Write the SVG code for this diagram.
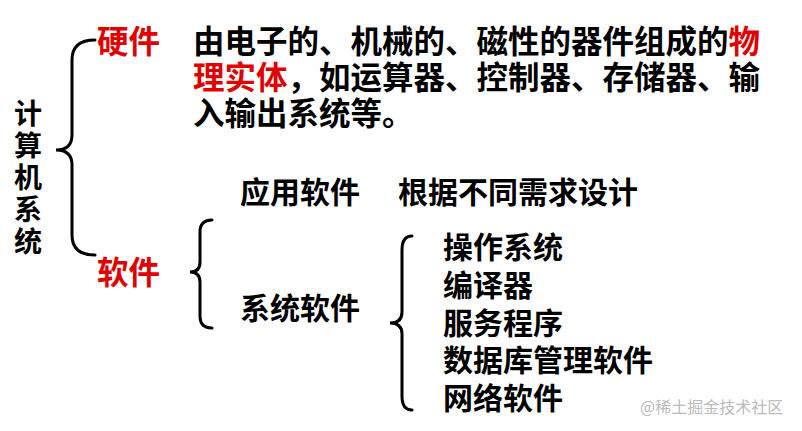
<svg xmlns="http://www.w3.org/2000/svg" width="802" height="431" viewBox="0 0 802 431">
<style>
text{font-family:"Noto Sans CJK SC","Noto Sans",sans-serif;font-weight:bold;fill:#000}
.r{fill:#e00000}
.b{fill:none;stroke:#000;stroke-width:3;stroke-linecap:round}
.t{font-size:31.5px}
.s{font-size:30px}
.v{font-size:28px}
</style>
<rect width="802" height="431" fill="#fff"/>
<g id="root">
<text class="v" x="28" y="124" text-anchor="middle">计</text>
<text class="v" x="28" y="156" text-anchor="middle">算</text>
<text class="v" x="28" y="188" text-anchor="middle">机</text>
<text class="v" x="28" y="220" text-anchor="middle">系</text>
<text class="v" x="28" y="252" text-anchor="middle">统</text>
</g>
<g id="connectors">
<path class="b" d="M95 40 Q72 40 72 60 L72 135 Q72 150 56 150 Q72 150 72 165 L72 235 Q72 255 95 255"/>
<path class="b" d="M212 220 Q200 220 200 232 L200 262 Q200 272 190 272 Q200 272 200 282 L200 316 Q200 328 212 328"/>
<path class="b" d="M412 236 Q402 236 402 250 L402 312 Q402 323 390 323 Q402 323 402 334 L402 396 Q402 410 412 410"/>
</g>
<g id="hw"><text class="t r" x="97" y="53">硬件</text>
<text class="t" x="193" y="53">由电子的、机械的、磁性的器件组成的<tspan class="r">物</tspan></text>
<text class="t" x="193" y="89"><tspan class="r">理实体</tspan>，如运算器、控制器、存储器、输</text>
<text class="t" x="193" y="125">入输出系统等。</text></g>
<g id="sw"><text class="t r" x="97" y="284">软件</text></g>
<g id="app"><text class="s" x="240" y="203">应用软件</text><text class="s" x="398" y="203">根据不同需求设计</text></g>
<g id="sys"><text class="s" x="240" y="319">系统软件</text></g>
<g id="list">
<text class="s" x="443" y="258">操作系统</text>
<text class="s" x="443" y="296">编译器</text>
<text class="s" x="443" y="334">服务程序</text>
<text class="s" x="443" y="371">数据库管理软件</text>
<text class="s" x="443" y="409">网络软件</text>
</g>
<text x="640" y="413" style="font-size:16px;font-weight:normal;fill:#bbb">@稀土掘金技术社区</text>
</svg>
